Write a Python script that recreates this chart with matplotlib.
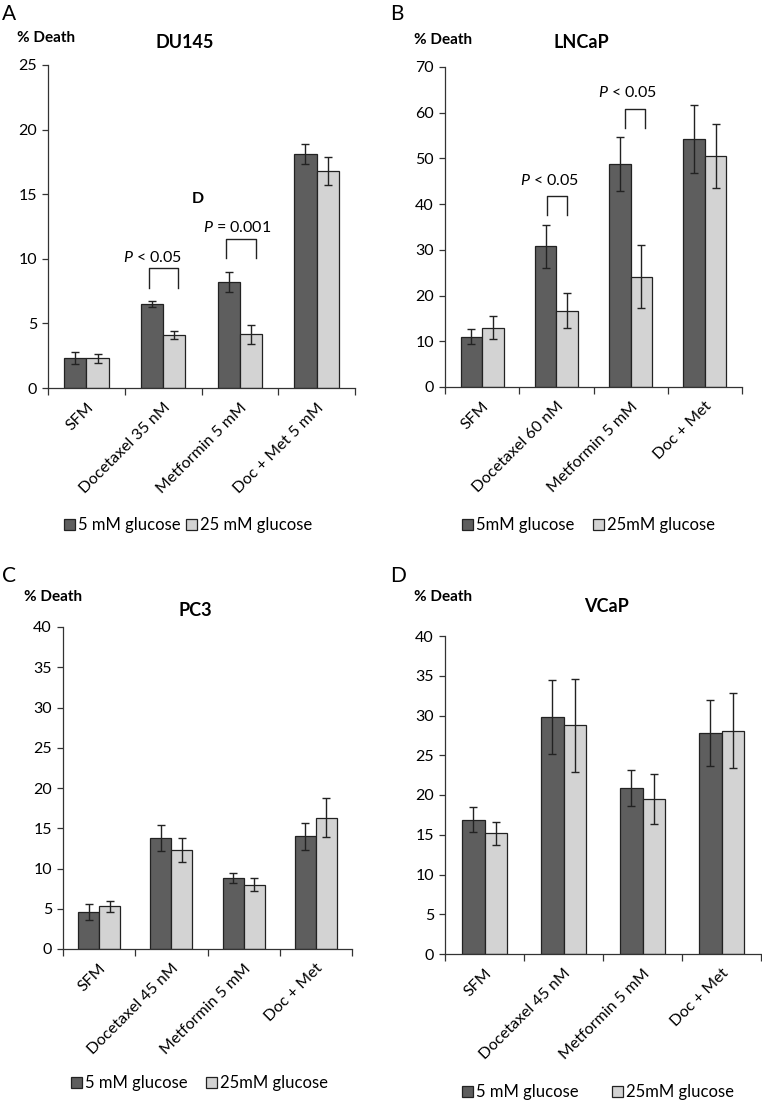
import numpy as np
import matplotlib
matplotlib.use('Agg')
from matplotlib import pyplot as plt

plt.rcParams['font.family'] = ['Lato', 'DejaVu Sans']
plt.rcParams['mathtext.fontset'] = 'custom'
plt.rcParams['mathtext.rm'] = 'Lato'
plt.rcParams['mathtext.it'] = 'Lato:italic'

# ---- data ----
cats_a = ['SFM', 'Docetaxel 35 nM', 'Metformin 5 mM', 'Doc + Met 5 mM']
low_a = [2.3, 6.5, 8.2, 18.1]
low_a_err = [0.45, 0.25, 0.77, 0.8]
high_a = [2.3, 4.1, 4.15, 16.8]
high_a_err = [0.35, 0.3, 0.75, 1.1]

cats_b = ['SFM', 'Docetaxel 60 nM', 'Metformin 5 mM', 'Doc + Met']
low_b = [11.0, 30.8, 48.8, 54.3]
low_b_err = [1.7, 4.7, 5.9, 7.4]
high_b = [13.0, 16.7, 24.1, 50.5]
high_b_err = [2.5, 3.8, 6.9, 7.0]

cats_c = ['SFM', 'Docetaxel 45 nM', 'Metformin 5 mM', 'Doc + Met']
low_c = [4.6, 13.8, 8.8, 14.0]
low_c_err = [1.05, 1.6, 0.6, 1.65]
high_c = [5.3, 12.3, 8.0, 16.3]
high_c_err = [0.65, 1.55, 0.8, 2.4]

cats_d = ['SFM', 'Docetaxel 45 nM', 'Metformin 5 mM', 'Doc + Met']
low_d = [16.9, 29.8, 20.9, 27.8]
low_d_err = [1.6, 4.7, 2.3, 4.1]
high_d = [15.2, 28.8, 19.5, 28.1]
high_d_err = [1.45, 5.85, 3.2, 4.7]

DARK = '#5e5e5e'
LIGHT = '#d3d3d3'
W, H = 762, 1101

fig = plt.figure(figsize=(W / 100, H / 100), dpi=100)


def px_ax(l, r, t, b):
    return fig.add_axes([l / W, 1 - b / H, (r - l) / W, (b - t) / H])


def panel(ax, cats, lo, lo_e, hi, hi_e, ymax, ystep):
    x = np.arange(len(cats)) + 0.5
    bw = 0.29
    b1 = ax.bar(x - bw / 2, lo, bw, color=DARK, edgecolor='#222222', linewidth=0.9,
                yerr=lo_e, capsize=3, error_kw=dict(elinewidth=1, capthick=1, ecolor='#222222'))
    b2 = ax.bar(x + bw / 2, hi, bw, color=LIGHT, edgecolor='#222222', linewidth=0.9,
                yerr=hi_e, capsize=3, error_kw=dict(elinewidth=1, capthick=1, ecolor='#222222'))
    ax.set_xlim(0, len(cats))
    ax.set_ylim(0, ymax)
    ax.set_yticks(np.arange(0, ymax + 0.1, ystep))
    ax.set_xticks(np.arange(len(cats) + 1))
    ax.set_xticklabels([])
    ax.set_xticks(x, minor=True)
    ax.set_xticklabels(cats, minor=True, rotation=45, ha='right', rotation_mode='anchor',
                       fontsize=11.5)
    ax.tick_params(axis='x', which='major', direction='out', length=5, width=0.9, color='#333333')
    ax.tick_params(axis='x', which='minor', length=0, pad=9)
    ax.tick_params(axis='y', direction='out', length=4, width=0.9, color='#333333',
                   labelsize=11.5, pad=4)
    for s in ['top', 'right']:
        ax.spines[s].set_visible(False)
    for s in ['left', 'bottom']:
        ax.spines[s].set_color('#333333')
        ax.spines[s].set_linewidth(0.9)
    return b1, b2


def bracket(ax, x0, x1, ytop, ybot, label, tx, ty):
    ax.plot([x0, x0, x1, x1], [ybot, ytop, ytop, ybot], color='#222222', lw=1)
    ax.text(tx, ty, label, ha='center', va='center', fontsize=11.5)


axA = px_ax(48, 355, 65, 388)
barsA = panel(axA, cats_a, low_a, low_a_err, high_a, high_a_err, 25, 5)
bracket(axA, 1.31, 1.70, 9.25, 7.77, r'$\it{P}$ < 0.05', 1.36, 10.1)
bracket(axA, 2.32, 2.71, 11.5, 10.1, r'$\it{P}$ = 0.001', 2.47, 12.4)
axA.text(1.95, 14.65, 'D', ha='center', va='center', fontsize=11.5, fontweight='bold')

axB = px_ax(445, 742, 67, 387)
barsB = panel(axB, cats_b, low_b, low_b_err, high_b, high_b_err, 70, 10)
bracket(axB, 1.37, 1.64, 41.7, 37.6, r'$\it{P}$ < 0.05', 1.41, 45.1)
bracket(axB, 2.42, 2.69, 60.9, 56.7, r'$\it{P}$ < 0.05', 2.46, 64.4)

axC = px_ax(63, 352, 627, 949)
barsC = panel(axC, cats_c, low_c, low_c_err, high_c, high_c_err, 40, 5)

axD = px_ax(445, 761, 636, 954)
barsD = panel(axD, cats_d, low_d, low_d_err, high_d, high_d_err, 40, 5)


def ftext(x, y, s, **kw):
    fig.text(x / W, 1 - y / H, s, **kw)


# panel letters
ftext(2, 14, 'A', fontsize=15, va='center', ha='left')
ftext(390, 14, 'B', fontsize=15, va='center', ha='left')
ftext(2, 576, 'C', fontsize=15, va='center', ha='left')
ftext(390, 576, 'D', fontsize=15, va='center', ha='left')

# y labels
ftext(17, 38, '% Death', fontsize=11, fontweight='bold', va='center', ha='left')
ftext(414, 40, '% Death', fontsize=11, fontweight='bold', va='center', ha='left')
ftext(24, 597, '% Death', fontsize=11, fontweight='bold', va='center', ha='left')
ftext(414, 597, '% Death', fontsize=11, fontweight='bold', va='center', ha='left')

# titles
ftext(185, 43, 'DU145', fontsize=13, fontweight='bold', va='center', ha='center')
ftext(581, 43, 'LNCaP', fontsize=13, fontweight='bold', va='center', ha='center')
ftext(195, 610, 'PC3', fontsize=13, fontweight='bold', va='center', ha='center')
ftext(606, 607, 'VCaP', fontsize=13, fontweight='bold', va='center', ha='center')


# legends
def legend(bars, x, y, labels, spacing):
    fig.legend(bars, labels, loc='center left', bbox_to_anchor=(x / W, 1 - y / H),
               ncol=2, frameon=False, fontsize=12, handlelength=0.65, handleheight=0.65,
               handletextpad=0.2, columnspacing=spacing, borderpad=0, borderaxespad=0)


legend(barsA, 64, 525, ['5 mM glucose', '25 mM glucose'], 0.3)
legend(barsB, 462, 525, ['5mM glucose', '25mM glucose'], 1.1)
legend(barsC, 71, 1083, ['5 mM glucose', '25mM glucose'], 1.1)
legend(barsD, 462, 1092, ['5 mM glucose', '25mM glucose'], 2.0)

fig.savefig('out.png', dpi=100)
